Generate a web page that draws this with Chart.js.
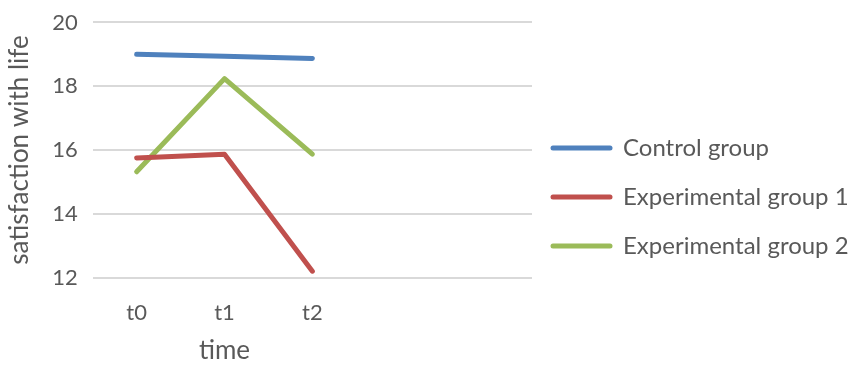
<!DOCTYPE html>
<html>
<head>
<meta charset="utf-8">
<script src="https://cdn.jsdelivr.net/npm/chart.js@4/dist/chart.umd.min.js"></script>
<style>
  html, body { margin: 0; padding: 0; background: #fff; }
  #wrap { width: 854px; height: 371px; }
</style>
</head>
<body>
<div id="wrap"><canvas id="lifeChart"></canvas></div>
<script>
// Satisfaction with life over time
const timeLabels = ['t0', 't1', 't2', '', ''];
const controlGroup = [19.0, 18.94, 18.87];
const expGroup1 = [15.75, 15.87, 12.2];
const expGroup2 = [15.32, 18.24, 15.87];
const yTicks = [12, 14, 16, 18, 20];

const textColor = '#595959';
const gridColor = '#d9d9d9';
const fontFamily = 'Lato, "Open Sans", sans-serif';

function series(label, data, color) {
    return {
        label: label,
        data: data,
        borderColor: color,
        backgroundColor: color,
        borderWidth: 5,
        borderCapStyle: 'round',
        borderJoinStyle: 'round',
        pointRadius: 0,
        pointHoverRadius: 0,
        tension: 0
    };
}

// legend on the right and the x axis title under the middle category
const sideParts = {
    id: 'sideParts',
    afterDraw(chart) {
        const ctx = chart.ctx;
        ctx.save();
        ctx.fillStyle = textColor;
        ctx.textBaseline = 'middle';

        const xScale = chart.scales.x;
        ctx.font = '26px ' + fontFamily;
        ctx.textAlign = 'center';
        ctx.fillText('time', xScale.getPixelForValue(1), 351);

        ctx.font = '24px ' + fontFamily;
        ctx.textAlign = 'left';
        chart.data.datasets.forEach((ds, i) => {
            const y = 148 + i * 49;
            ctx.strokeStyle = ds.borderColor;
            ctx.lineWidth = 5;
            ctx.lineCap = 'round';
            ctx.beginPath();
            ctx.moveTo(553, y);
            ctx.lineTo(610, y);
            ctx.stroke();
            ctx.fillText(ds.label, 623, y);
        });
        ctx.restore();
    }
};

new Chart(document.getElementById('lifeChart'), {
    type: 'line',
    data: {
        labels: timeLabels,
        datasets: [
            series('Control group', controlGroup, '#4f81bd'),
            series('Experimental group 1', expGroup1, '#c0504d'),
            series('Experimental group 2', expGroup2, '#9bbb59')
        ]
    },
    options: {
        responsive: true,
        maintainAspectRatio: false,
        animation: false,
        layout: {
            padding: { top: 0, right: 322, bottom: 23, left: 0 }
        },
        plugins: {
            legend: { display: false },
            tooltip: { enabled: false }
        },
        scales: {
            x: {
                offset: true,
                grid: { display: false, drawTicks: false },
                border: { display: false },
                ticks: {
                    color: textColor,
                    padding: 22,
                    maxRotation: 0,
                    font: { family: fontFamily, size: 22 }
                }
            },
            y: {
                min: 12,
                max: 20,
                afterBuildTicks: function(scale) {
                    scale.ticks = yTicks.map(v => ({ value: v }));
                },
                grid: { color: gridColor, lineWidth: 2, drawTicks: false },
                border: { display: false },
                ticks: {
                    color: textColor,
                    padding: 15,
                    font: { family: fontFamily, size: 22, lineHeight: 0.68 }
                },
                title: {
                    display: true,
                    text: 'satisfaction with life',
                    color: textColor,
                    padding: { top: 4, bottom: 2 },
                    font: { family: fontFamily, size: 26 }
                }
            }
        }
    },
    plugins: [sideParts]
});
</script>
</body>
</html>
